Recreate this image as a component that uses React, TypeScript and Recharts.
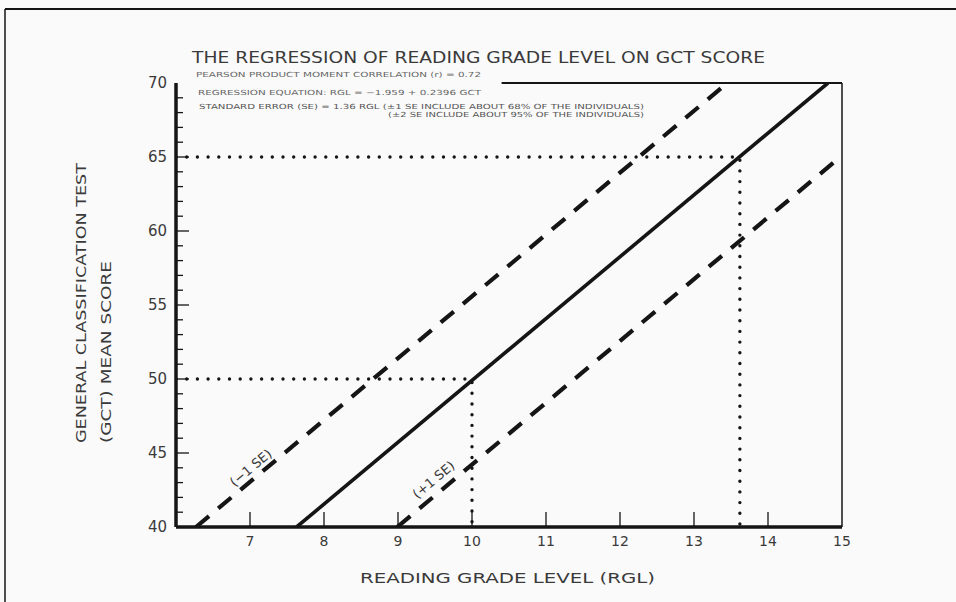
import React from "react";
import {
  LineChart,
  Line,
  XAxis,
  YAxis,
  ReferenceLine,
  ReferenceDot,
} from "recharts";

const xTicks = [7, 8, 9, 10, 11, 12, 13, 14, 15];
const yMajorTicks = [40, 45, 50, 55, 60, 65, 70];
const yTicks = Array.from({ length: 31 }, (_, i) => 40 + i);

// endpoints (RGL, GCT)
const regressionLine = [
  { x: 7.63, y: 40 },
  { x: 14.81, y: 70 },
];
const minusSeLine = [
  { x: 6.27, y: 40 },
  { x: 13.45, y: 70 },
];
const plusSeLine = [
  { x: 8.99, y: 40 },
  { x: 15, y: 65.1 },
];
const guide50 = [
  { x: 6, y: 50 },
  { x: 10, y: 50 },
  { x: 10, y: 40 },
];
const guide65 = [
  { x: 6, y: 65 },
  { x: 13.62, y: 65 },
  { x: 13.62, y: 40 },
];
const seLabels = [
  { x: 7.01, y: 44.0, text: "(\u22121 SE)" },
  { x: 9.48, y: 43.2, text: "(+1 SE)" },
];
const topBorderFrom = 10.4;

const infoLines = [
  "PEARSON PRODUCT MOMENT CORRELATION (r) = 0.72",
  "REGRESSION EQUATION: RGL = \u22121.959 + 0.2396 GCT",
  "STANDARD ERROR (SE) = 1.36 RGL (\u00b11 SE INCLUDE ABOUT 68% OF THE INDIVIDUALS)",
  "(\u00b12 SE INCLUDE ABOUT 95% OF THE INDIVIDUALS)",
];

const INK = "#151515";
const TEXT = "#3a3a3a";
const FONT = "'DejaVu Sans', 'Open Sans', sans-serif";
const Y_MARGIN = 9;
const X_MARGIN = 10;

function YTick({ x, y, payload }: any) {
  const v = payload.value;
  const major = v % 5 === 0;
  const ax = x + Y_MARGIN;
  return (
    <g>
      {v !== 40 && v !== 70 && (
        <line x1={ax} x2={ax + (major ? 13 : 7)} y1={y} y2={y} stroke={INK} strokeWidth={1.3} />
      )}
      {major && (
        <text x={x} y={y} dy="0.36em" textAnchor="end" fontSize={15} fill={TEXT} fontFamily={FONT}>
          {v}
        </text>
      )}
    </g>
  );
}

function XTick({ x, y, payload }: any) {
  const v = payload.value;
  const ay = y - X_MARGIN;
  return (
    <g>
      {v < 15 && <line x1={x} x2={x} y1={ay} y2={ay - 15} stroke={INK} strokeWidth={1.3} />}
      <text x={x} y={y + 9} textAnchor="middle" fontSize={14} fill={TEXT} fontFamily={FONT}>
        {v}
      </text>
    </g>
  );
}

function SeLabel({ cx, cy, text }: any) {
  return (
    <text
      x={cx}
      y={cy}
      dy="0.35em"
      textAnchor="middle"
      fontSize={13}
      fill={TEXT}
      fontFamily={FONT}
      transform={`rotate(-40 ${cx} ${cy})`}
    >
      {text}
    </text>
  );
}

export default function App() {
  return (
    <div style={{ position: "absolute", left: 0, top: 0, width: 956, height: 602, background: "#fafafa" }}>
      <LineChart
        width={956}
        height={602}
        margin={{ top: 83, right: 114, bottom: 45, left: 136 }}
      >
        <XAxis
          dataKey="x"
          type="number"
          domain={[6, 15]}
          ticks={xTicks}
          allowDataOverflow
          height={30}
          tickSize={0}
          tickMargin={X_MARGIN}
          tick={<XTick />}
          tickLine={false}
          axisLine={{ stroke: INK, strokeWidth: 3.5 }}
        />
        <YAxis
          dataKey="y"
          type="number"
          domain={[40, 70]}
          ticks={yTicks}
          interval={0}
          allowDataOverflow
          width={40}
          tickSize={0}
          tickMargin={Y_MARGIN}
          tick={<YTick />}
          tickLine={false}
          axisLine={{ stroke: INK, strokeWidth: 3.5 }}
        />
        <ReferenceLine x={15} stroke={INK} strokeWidth={1.5} />
        <ReferenceLine
          segment={[
            { x: topBorderFrom, y: 70 },
            { x: 15, y: 70 },
          ]}
          stroke={INK}
          strokeWidth={1.8}
        />
        <Line
          data={guide50}
          dataKey="y"
          stroke={INK}
          strokeWidth={3.4}
          strokeDasharray="0 10.7"
          strokeLinecap="round"
          dot={false}
          isAnimationActive={false}
        />
        <Line
          data={guide65}
          dataKey="y"
          stroke={INK}
          strokeWidth={3.4}
          strokeDasharray="0 10.7"
          strokeLinecap="round"
          dot={false}
          isAnimationActive={false}
        />
        <Line
          data={minusSeLine}
          dataKey="y"
          stroke={INK}
          strokeWidth={4.2}
          strokeDasharray="17 12"
          dot={false}
          isAnimationActive={false}
        />
        <Line
          data={plusSeLine}
          dataKey="y"
          stroke={INK}
          strokeWidth={4.2}
          strokeDasharray="17 12"
          dot={false}
          isAnimationActive={false}
        />
        <Line
          data={regressionLine}
          dataKey="y"
          stroke={INK}
          strokeWidth={3.6}
          dot={false}
          isAnimationActive={false}
        />
        {seLabels.map((l) => (
          <ReferenceDot
            key={l.text}
            x={l.x}
            y={l.y}
            r={0}
            shape={(p: any) => <SeLabel cx={p.cx} cy={p.cy} text={l.text} />}
          />
        ))}
      </LineChart>
      <svg
        width={956}
        height={602}
        style={{ position: "absolute", left: 0, top: 0, pointerEvents: "none" }}
      >
        <line x1={5} x2={956} y1={9} y2={9} stroke={INK} strokeWidth={2} />
        <line x1={5} x2={5} y1={9} y2={602} stroke={INK} strokeWidth={1.5} />
        <text x={192} y={63} fontSize={15} fill={TEXT} fontFamily={FONT} textLength={573} lengthAdjust="spacingAndGlyphs">
          THE REGRESSION OF READING GRADE LEVEL ON GCT SCORE
        </text>
        <text x={196} y={77} fontSize={7} fill="#666" fontFamily={FONT} textLength={285} lengthAdjust="spacingAndGlyphs">
          {infoLines[0]}
        </text>
        <text x={198} y={95} fontSize={7} fill="#666" fontFamily={FONT} textLength={283} lengthAdjust="spacingAndGlyphs">
          {infoLines[1]}
        </text>
        <text x={199} y={109} fontSize={7} fill="#555" fontFamily={FONT} textLength={445} lengthAdjust="spacingAndGlyphs">
          {infoLines[2]}
        </text>
        <text x={388} y={117} fontSize={7} fill="#555" fontFamily={FONT} textLength={256} lengthAdjust="spacingAndGlyphs">
          {infoLines[3]}
        </text>
        <text
          x={86}
          y={443}
          fontSize={14}
          fill={TEXT}
          fontFamily={FONT}
          textLength={280}
          lengthAdjust="spacingAndGlyphs"
          transform="rotate(-90 86 443)"
        >
          GENERAL CLASSIFICATION TEST
        </text>
        <text
          x={111}
          y={443}
          fontSize={14}
          fill={TEXT}
          fontFamily={FONT}
          textLength={182}
          lengthAdjust="spacingAndGlyphs"
          transform="rotate(-90 111 443)"
        >
          (GCT) MEAN SCORE
        </text>
        <text x={360} y={583} fontSize={14} fill={TEXT} fontFamily={FONT} textLength={295} lengthAdjust="spacingAndGlyphs">
          READING GRADE LEVEL (RGL)
        </text>
      </svg>
    </div>
  );
}
